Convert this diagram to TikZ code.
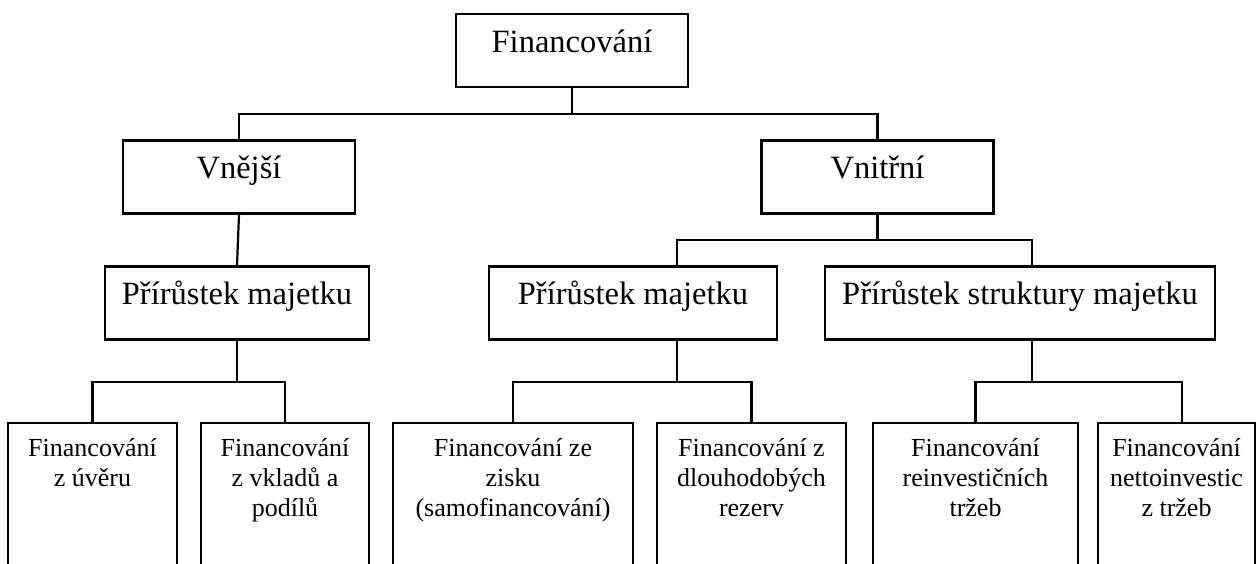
\documentclass[tikz,border=0pt]{standalone}
\usepackage{fontspec}
\setmainfont{Liberation Serif}
\usetikzlibrary{calc}
\tikzset{
  frame/.style={draw,line width=1.1pt,inner sep=0pt},
  link/.style={line width=1.1pt}
}
\newcommand{\headcell}[2]{%
  \parbox[c][36.5pt][t]{#1}{\centering\fontsize{16.25}{19}\selectfont\rule{0pt}{19pt}#2}%
}
\newcommand{\leafcell}[2]{%
  \parbox[c][90pt][t]{#1}{\centering\fontsize{13}{15}\selectfont\rule{0pt}{16.5pt}#2}%
}

\begin{document}
\begin{tikzpicture}[x=0.5pt,y=-0.5pt]
  \useasboundingbox (0,0) rectangle (1258,563);
  \clip (0,0) rectangle (1258,563);
  \node[frame] (fin) at (572,50.5) {\headcell{116pt}{Financování}};
  \node[frame] (vnejsi) at (239,177) {\headcell{116pt}{Vnější}};
  \node[frame] (vnitrni) at (877.5,177) {\headcell{116pt}{Vnitřní}};
  \node[frame] (pmL) at (237,303) {\headcell{132pt}{Přírůstek majetku}};
  \node[frame] (pmM) at (633,303) {\headcell{144pt}{Přírůstek majetku}};
  \node[frame] (psR) at (1020,303) {\headcell{195pt}{Přírůstek struktury majetku}};
  \node[frame] (uver) at (92.5,513) {\leafcell{84.5pt}{Financování\\z úvěru}};
  \node[frame] (vklad) at (285,513) {\leafcell{84pt}{Financování\\z vkladů a\\podílů}};
  \node[frame] (zisk) at (513,513) {\leafcell{120pt}{Financování ze\\zisku\\(samofinancování)}};
  \node[frame] (rezerv) at (751.5,513) {\leafcell{94.5pt}{Financování z\\dlouhodobých\\rezerv}};
  \node[frame] (reinv) at (975.5,513) {\leafcell{102.5pt}{Financování\\reinvestičních\\tržeb}};
  \node[frame] (netto) at (1176.5,513) {\leafcell{78.5pt}{Financování\\nettoinvestic\\z tržeb}};

  \coordinate (busA) at (572,114);
  \draw[link] (fin.south) -- (busA);
  \draw[link] (vnejsi.north) |- (busA) -| (vnitrni.north);
  \draw[link] (vnejsi.south) -- (pmL.north);
  \coordinate (busB) at (877.5,240);
  \draw[link] (vnitrni.south) -- (busB);
  \draw[link] (pmM.north -| 677,0) |- (busB) -| (psR.north -| 1032,0);

  \coordinate (busC) at (237,382);
  \draw[link] (pmL.south) -- (busC);
  \draw[link] (uver.north) |- (busC) -| (vklad.north);
  \coordinate (busD) at (677,382);
  \draw[link] (pmM.south -| busD) -- (busD);
  \draw[link] (zisk.north) |- (busD) -| (rezerv.north);
  \coordinate (busE) at (1032,382);
  \draw[link] (psR.south -| busE) -- (busE);
  \draw[link] (reinv.north) |- (busE) -| (netto.north -| 1182,0);
\end{tikzpicture}
\end{document}
